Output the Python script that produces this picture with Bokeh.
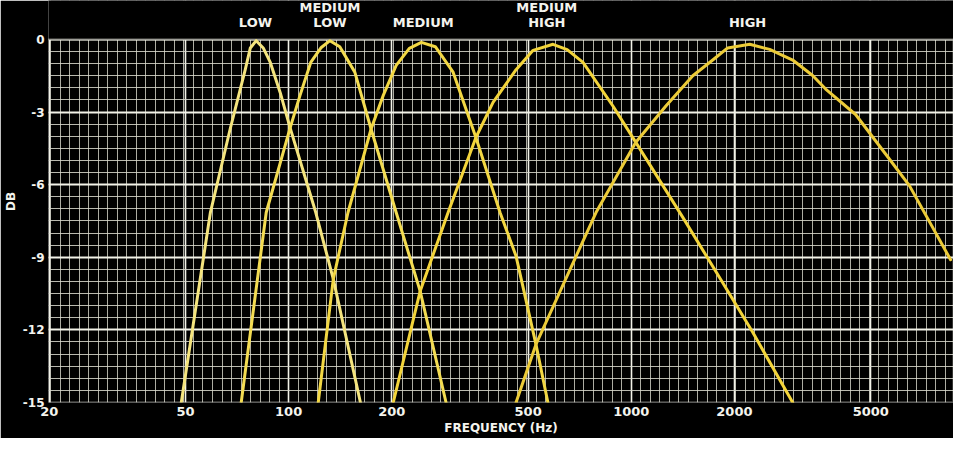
from bokeh.plotting import figure
from bokeh.models import FixedTicker, Range1d, NumeralTickFormatter, BoxAnnotation
from bokeh.core.properties import value
from bokeh.embed import file_html
from bokeh.resources import INLINE

# ---- data ----
low_freq = [48.6, 59.1, 67.5, 74.7, 77.3, 80.4, 84.3, 88.4, 94.5, 101, 120, 135, 162]
low_db = [-15, -7.15, -3.7, -1.25, -0.35, -0.05, -0.35, -0.95, -2.2, -3.65, -7.15, -9.9, -15]

medlow_freq = [72.7, 86.0, 101, 108, 116, 124.5, 132, 141, 156, 174, 206, 242, 288]
medlow_db = [-15, -7.15, -3.65, -2.3, -0.95, -0.33, -0.05, -0.3, -1.35, -3.7, -7.15, -10.4, -15]

medium_freq = [122, 135, 149, 174, 189, 206, 225, 244, 268, 302, 352, 414, 461, 527, 571]
medium_db = [-15, -9.9, -7.15, -3.7, -2.3, -1.07, -0.37, -0.12, -0.3, -1.35, -4.05, -7.15, -8.95, -12.6, -15]

medhigh_freq = [202, 242, 292, 352, 395, 461, 517, 591, 650, 723, 884, 1031, 1414, 1849, 2262, 2959]
medhigh_db = [-15, -10.4, -7.15, -4.05, -2.6, -1.25, -0.45, -0.2, -0.42, -0.95, -2.75, -4.25, -7.35, -10.05, -12.1, -15]

high_freq = [461, 527, 789, 1031, 1262, 1512, 1729, 1912, 2217, 2535, 2959, 3383, 3693, 4516, 5674, 6490, 8550]
high_db = [-15, -12.6, -7.15, -4.25, -2.75, -1.5, -0.85, -0.35, -0.2, -0.41, -0.85, -1.49, -2.05, -3.1, -4.95, -6.05, -9.1]

band_label_freq = [80, 132, 247, 567, 2185]
band_label_line1 = ["", "MEDIUM", "", "MEDIUM", ""]
band_label_line2 = ["LOW", "LOW", "MEDIUM", "HIGH", "HIGH"]

x_tick_values = [20, 50, 100, 200, 500, 1000, 2000, 5000]
y_tick_values = [-15, -12, -9, -6, -3, 0]
y_tick_labels = ["-15", "-12", "-9", "-6", "-3", "0"]

# ---- styling ----
BG = "#000000"
MAJOR = "#f2f2e8"
MINOR = "#d8d8cc"
TXT = "#f4f4ee"
FONT = "DejaVu Sans"
DB_MIN, DB_MAX = -15, 0
HEADROOM = 1.61          # space above 0 dB that holds the band names
LINE2_Y, LINE1_Y = 0.70, 1.32

x_minor = [10 ** (k / 36) for k in range(43, 146)]
y_minor = [DB_MIN + 0.5 * k for k in range(31)]

p = figure(width=953, height=438, x_axis_type="log",
           x_range=Range1d(19.91, 8720), y_range=Range1d(DB_MIN, DB_MAX + HEADROOM),
           output_backend="svg", toolbar_location=None,
           min_border_left=47, min_border_right=0, min_border_top=0, min_border_bottom=36,
           background_fill_color=BG, border_fill_color=BG)

p.outline_line_color = None

p.xaxis.ticker = FixedTicker(ticks=x_tick_values, minor_ticks=x_minor)
p.yaxis.ticker = FixedTicker(ticks=y_tick_values, minor_ticks=y_minor)
p.xaxis.formatter = NumeralTickFormatter(format="0")
p.yaxis.major_label_overrides = dict(zip(y_tick_values, y_tick_labels))
p.yaxis.bounds = (DB_MIN, DB_MAX)

p.xgrid.grid_line_color = MAJOR
p.xgrid.grid_line_width = 1.6
p.xgrid.minor_grid_line_color = MINOR
p.xgrid.minor_grid_line_width = 1
p.xgrid.minor_grid_line_alpha = 0.8
p.ygrid.grid_line_color = MAJOR
p.ygrid.grid_line_width = 2
p.ygrid.minor_grid_line_color = MINOR
p.ygrid.minor_grid_line_width = 1
p.ygrid.minor_grid_line_alpha = 0.85

for ax in (p.xaxis, p.yaxis):
    ax.axis_line_color = None
    ax.major_tick_line_color = None
    ax.minor_tick_line_color = None
    ax.major_tick_out = 0
    ax.major_tick_in = 0
    ax.minor_tick_out = 0
    ax.minor_tick_in = 0
    ax.major_label_text_color = TXT
    ax.major_label_text_font = FONT
    ax.major_label_text_font_style = "bold"
    ax.axis_label_text_color = TXT
    ax.axis_label_text_font = FONT
    ax.axis_label_text_font_style = "bold"
    ax.axis_label_text_font_size = "12px"

p.xaxis.major_label_text_font_size = "13px"
p.yaxis.major_label_text_font_size = "12px"
p.xaxis.axis_label = "FREQUENCY (Hz)"
p.xaxis.major_label_standoff = 4
p.xaxis.axis_label_standoff = 2
p.yaxis.axis_label = "DB"
p.yaxis.major_label_standoff = 4
p.yaxis.axis_label_standoff = 2

# black band above 0 dB hides the grid there, then the chart border
p.add_layout(BoxAnnotation(bottom=DB_MAX, fill_color=BG, fill_alpha=1.0,
                           line_color=None, level="underlay"))
p.add_layout(BoxAnnotation(bottom=DB_MIN, top=DB_MAX, fill_alpha=0.0,
                           line_color=MAJOR, line_width=2.5, level="underlay"))

curves = [
    (low_freq, low_db, "#f4e47e"),
    (medlow_freq, medlow_db, "#f3dc52"),
    (medium_freq, medium_db, "#f2d743"),
    (medhigh_freq, medhigh_db, "#f3d43a"),
    (high_freq, high_db, "#eccb38"),
]
for fx, db, col in curves:
    p.line(fx, db, line_color=col, line_width=3, line_join="round", line_cap="round")

for texts, yy in ((band_label_line1, LINE1_Y), (band_label_line2, LINE2_Y)):
    p.text(x=band_label_freq, y=[yy] * len(texts), text=texts,
           text_align="center", text_baseline="middle", text_color=TXT,
           text_font=value(FONT), text_font_style="bold", text_font_size="13px")

open("out.html", "w").write(file_html(p, INLINE))
